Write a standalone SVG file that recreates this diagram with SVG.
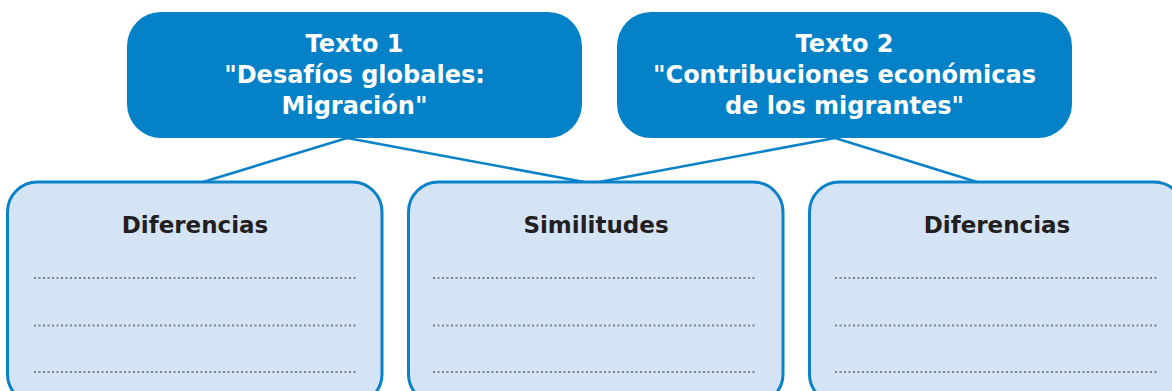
<svg xmlns="http://www.w3.org/2000/svg" width="1172" height="391" viewBox="0 0 1172 391">
<style>
.top{fill:#0481c7}
.topt{fill:#ffffff;font-family:"DejaVu Sans",sans-serif;font-weight:bold;font-size:24px;text-anchor:middle}
.box{fill:#d4e4f4;stroke:#0a82c8;stroke-width:3}
.ttl{fill:#231f20;font-family:"DejaVu Sans",sans-serif;font-weight:bold;font-size:23px;text-anchor:middle}
.dot{stroke:#7f8184;stroke-width:2.2;stroke-dasharray:2 2.5;fill:none}
.con{stroke:#0a82c8;stroke-width:2.6;fill:none}
</style>
<rect width="1172" height="391" fill="#ffffff"/>
<g id="connectors">
<line class="con" x1="347" y1="138" x2="203" y2="182"/>
<line class="con" x1="347" y1="138" x2="584" y2="182"/>
<line class="con" x1="835" y1="138" x2="599" y2="182"/>
<line class="con" x1="835" y1="138" x2="977" y2="182"/>
</g>
<g id="texto1">
<rect class="top" x="127" y="12" width="455" height="126" rx="34"/>
<text class="topt" x="354.5" y="52">Texto 1</text>
<text class="topt" x="354.5" y="83">"Desafíos globales:</text>
<text class="topt" x="354.5" y="114">Migración"</text>
</g>
<g id="texto2">
<rect class="top" x="617" y="12" width="455" height="126" rx="34"/>
<text class="topt" x="844.5" y="52">Texto 2</text>
<text class="topt" x="844.5" y="83">"Contribuciones económicas</text>
<text class="topt" x="844.5" y="114">de los migrantes"</text>
</g>
<g id="diferencias1">
<rect class="box" x="7.5" y="182" width="374.5" height="222" rx="30"/>
<text class="ttl" x="195" y="233">Diferencias</text>
<line class="dot" x1="34" y1="278" x2="358" y2="278"/>
<line class="dot" x1="34" y1="325.5" x2="358" y2="325.5"/>
<line class="dot" x1="34" y1="372" x2="358" y2="372"/>
</g>
<g id="similitudes">
<rect class="box" x="408.5" y="182" width="374.5" height="222" rx="30"/>
<text class="ttl" x="596" y="233">Similitudes</text>
<line class="dot" x1="433" y1="278" x2="757" y2="278"/>
<line class="dot" x1="433" y1="325.5" x2="757" y2="325.5"/>
<line class="dot" x1="433" y1="372" x2="757" y2="372"/>
</g>
<g id="diferencias2">
<rect class="box" x="809.5" y="182" width="374.5" height="222" rx="30"/>
<text class="ttl" x="997" y="233">Diferencias</text>
<line class="dot" x1="835" y1="278" x2="1159" y2="278"/>
<line class="dot" x1="835" y1="325.5" x2="1159" y2="325.5"/>
<line class="dot" x1="835" y1="372" x2="1159" y2="372"/>
</g>
</svg>
